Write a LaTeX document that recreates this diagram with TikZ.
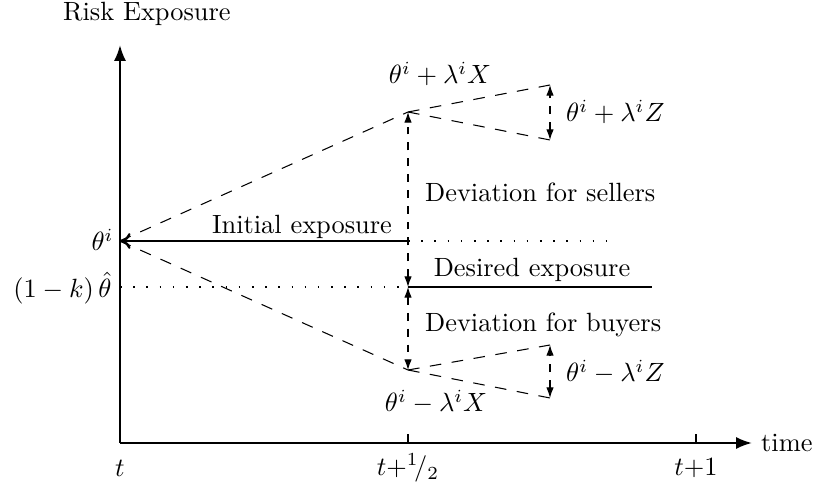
\documentclass[tikz,border=0pt]{standalone}
\usetikzlibrary{arrows.meta}
\begin{document}
\begin{tikzpicture}[x=0.379pt,y=-0.379pt,
  axis/.style={line width=0.9pt},
  bigtip/.style={-{Latex[length=6pt,width=4.6pt]}},
  dsh/.style={dashed,dash pattern=on 4.4pt off 4pt,line width=0.4pt},
  dbl/.style={dashed,dash pattern=on 3pt off 3pt,line width=0.4pt,{Latex[length=4pt,width=2.8pt]}-{Latex[length=4pt,width=2.8pt]}},
  dot/.style={dotted,line width=0.6pt,dash pattern=on 0.6pt off 4.4pt},
  lvl/.style={line width=0.9pt},
  lbl/.style={inner sep=1pt}]
\useasboundingbox (0,0) rectangle (821,486);
% coordinates
\coordinate (O) at (120,443);
\coordinate (Ytop) at (120,45);
\coordinate (Xend) at (752,443);
\coordinate (Th) at (120,241);
\coordinate (Bh) at (408,241);
\coordinate (Bdot) at (612,241);
\coordinate (Dk) at (120,287);
\coordinate (Dh) at (408,287);
\coordinate (Dend) at (652,287);
\coordinate (Up) at (408,112);
\coordinate (Dn) at (408,370);
\coordinate (UpA) at (550,85);
\coordinate (UpB) at (550,140);
\coordinate (DnA) at (550,345);
\coordinate (DnB) at (550,398);
\coordinate (Th1) at (408,443);
\coordinate (Th1t) at (408,434);
\coordinate (Tt1) at (696,443);
\coordinate (Tt1t) at (696,434);
% axes
\draw[axis,bigtip] (O) -- (Ytop);
\draw[axis,bigtip] (O) -- (Xend);
\draw[line width=0.6pt] (Th1) -- (Th1t);
\draw[line width=0.6pt] (Tt1) -- (Tt1t);
\node[lbl,anchor=west] (time) at (758,443) {time};
\node[lbl,anchor=west] (risk) at (60,14) {Risk Exposure};
\node[lbl] (lt) at (120,468) {$t$};
\node[lbl] (lth) at (408,468) {$t{+}{}^{1}\!/_{2}$};
\node[lbl] (lt1) at (696,468) {$t{+}1$};
% levels
\draw[lvl,-{To[length=4pt,width=6pt]}] (Bh) -- (Th);
\draw[dot] (Bh) -- (Bdot);
\draw[dot] (Dk) -- (Dh);
\draw[lvl] (Dh) -- (Dend);
\node[lbl] (init) at (302,227) {Initial exposure};
\node[lbl] (des) at (532,270) {Desired exposure};
\node[inner sep=0pt,anchor=east] (thi) at (114,240) {$\theta^i$};
\node[inner sep=0pt,anchor=east] (thk) at (112,288) {$(1-k)\,\hat\theta$};
% dashed fans
\draw[dsh] (Th) -- (Up);
\draw[dsh] (Th) -- (Dn);
\draw[dsh] (Up) -- (UpA);
\draw[dsh] (Up) -- (UpB);
\draw[dsh] (Dn) -- (DnA);
\draw[dsh] (Dn) -- (DnB);
% deviation arrows
\draw[dbl] (Dh) -- (Up);
\draw[dbl] (Dh) -- (Dn);
\draw[dbl] (UpB) -- (UpA);
\draw[dbl] (DnB) -- (DnA);
% labels
\node[lbl] (upx) at (440,74) {$\theta^i+\lambda^i X$};
\node[lbl] (dnx) at (436,402) {$\theta^i-\lambda^i X$};
\node[lbl,anchor=west] (upz) at (563,112) {$\theta^i+\lambda^i Z$};
\node[lbl,anchor=west] (dnz) at (563,372) {$\theta^i-\lambda^i Z$};
\node[lbl,anchor=west] (sell) at (422,192) {Deviation for sellers};
\node[lbl,anchor=west] (buy) at (422,325) {Deviation for buyers};
\end{tikzpicture}
\end{document}
